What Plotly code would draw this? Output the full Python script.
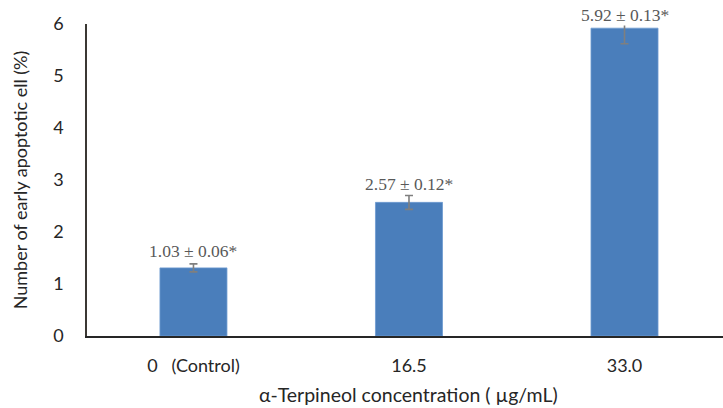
import plotly.graph_objects as go

categories = ["0\u00a0\u00a0\u00a0(Control)", "16.5", "33.0"]
values = [1.31, 2.57, 5.92]
errors = [0.077, 0.135, 0.30]
labels = ["1.03 \u00b1 0.06*", "2.57 \u00b1 0.12*", "5.92 \u00b1 0.13*"]
y_ticks = [0, 1, 2, 3, 4, 5, 6]

font_main = "Lato, 'Open Sans', sans-serif"

fig = go.Figure()
fig.add_trace(go.Bar(
    x=[0, 1, 2],
    y=values,
    width=0.311,
    marker=dict(color="#4A7EBB", line=dict(color="#6d9bd1", width=0.8)),
    error_y=dict(type="data", array=errors, visible=True,
                 color="#7f7f7f", thickness=1.6, width=4),
    hoverinfo="skip",
))

shifts = [17, 18, 13]
for i, (v, lab) in enumerate(zip(values, labels)):
    fig.add_annotation(
        x=i, y=v, text=lab, showarrow=False, yanchor="middle",
        yshift=shifts[i], bgcolor="white", borderpad=0,
        font=dict(family="'Liberation Serif', 'Times New Roman', serif",
                  size=17.5, color="#595959"),
    )

fig.add_annotation(
    x=0.505, xref="paper", y=-0.188, yref="paper", yanchor="middle",
    text="\u03b1-Terpineol concentration ( \u00b5g/mL)", showarrow=False,
    font=dict(family=font_main, size=19.5, color="#262626"),
)

fig.update_layout(
    width=723, height=408,
    margin=dict(l=87, r=0, t=24, b=72),
    paper_bgcolor="white", plot_bgcolor="white",
    showlegend=False,
    font=dict(family=font_main, size=18, color="#262626"),
    xaxis=dict(
        range=[-0.494, 2.457], automargin=False,
        tickmode="array", tickvals=[0, 1, 2], ticktext=categories,
        showline=True, linecolor="#262626", linewidth=1.5,
        showgrid=False, zeroline=False, ticks="",
        ticklabelstandoff=13,
        tickfont=dict(size=18, color="#262626"),
    ),
    yaxis=dict(
        range=[0, 6], automargin=False,
        tickmode="array", tickvals=y_ticks,
        ticktext=[str(t) for t in y_ticks],
        showline=True, linecolor="#3b3834", linewidth=1.5,
        showgrid=False, zeroline=False, ticks="",
        ticklabelstandoff=18,
        tickfont=dict(size=18, color="#262626"),
        title=dict(text="Number of early apoptotic ell (%)",
                   font=dict(size=18, color="#262626"), standoff=21),
    ),
)

fig.write_html("out.html", config={"displayModeBar": False},
               post_script="document.body.style.margin='0';")
